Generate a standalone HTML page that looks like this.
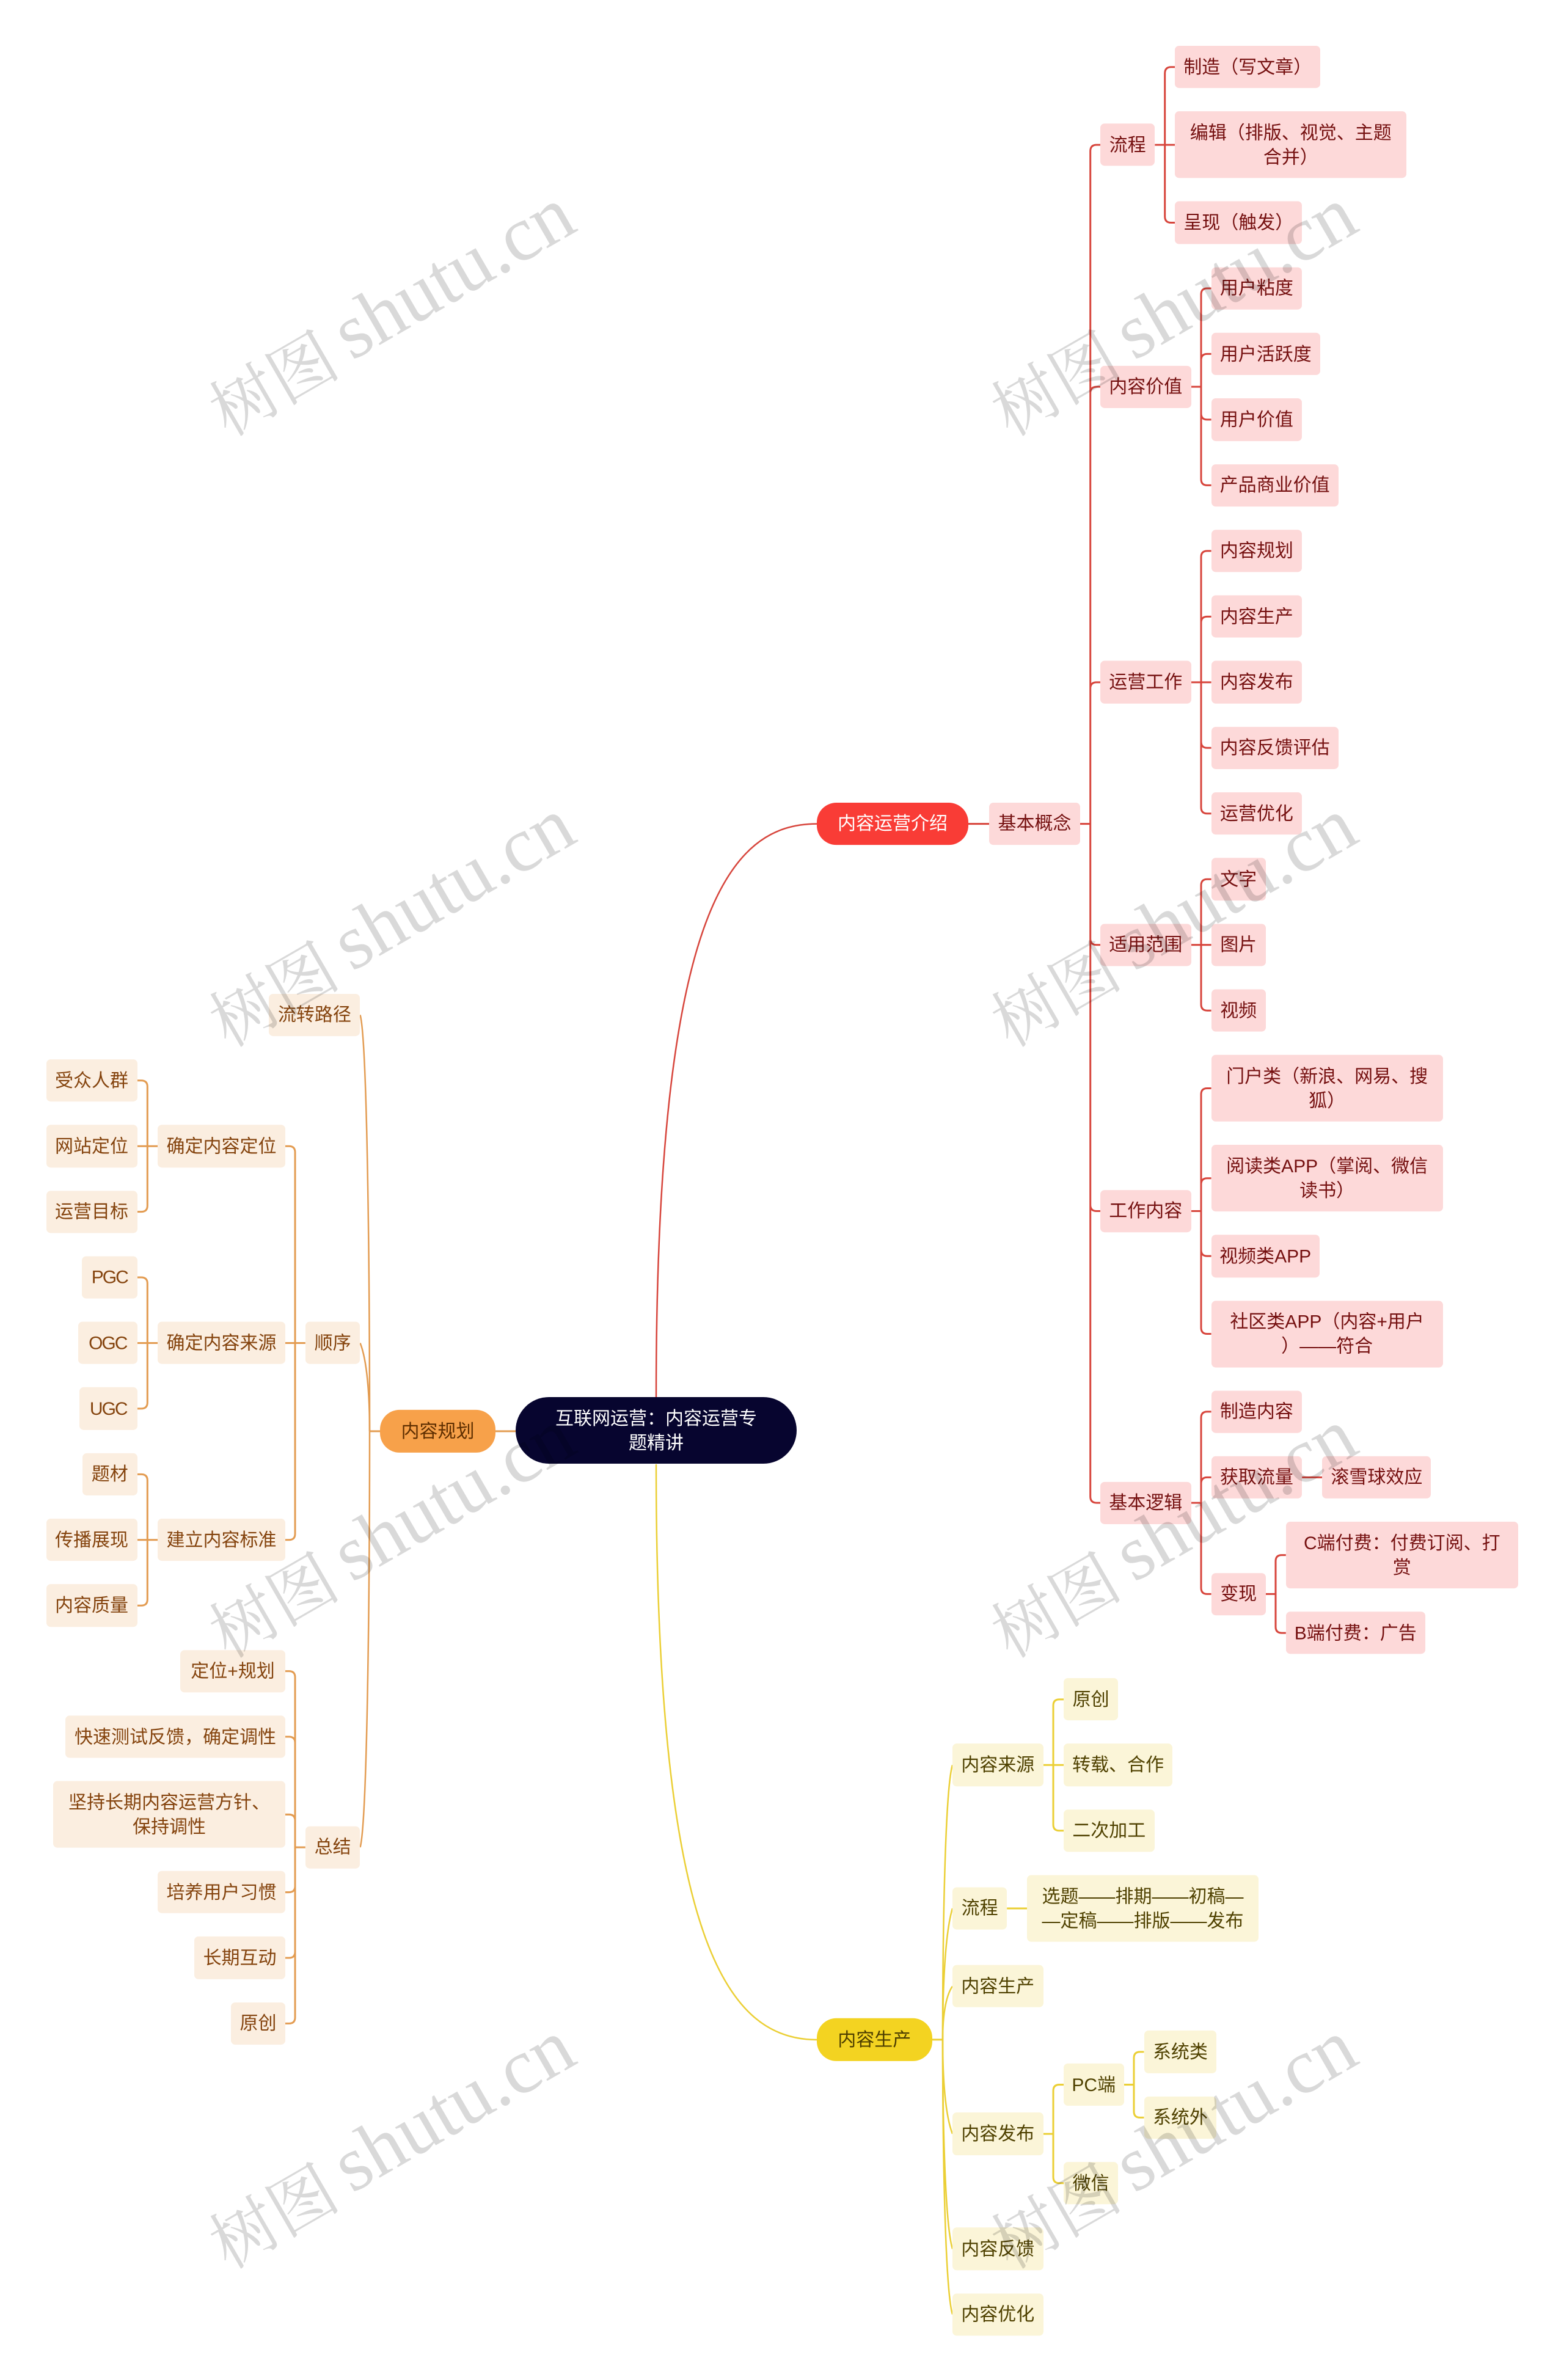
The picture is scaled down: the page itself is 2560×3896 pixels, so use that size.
<!DOCTYPE html>
<html lang="zh"><head><meta charset="utf-8"><title>互联网运营：内容运营专题精讲</title>
<style>
html,body{margin:0;padding:0;background:#fff}
#c{position:relative;width:2560px;height:3896px;overflow:hidden;background:#fff;font-family:"Liberation Sans","Noto Sans CJK SC",sans-serif}
svg{position:absolute;left:0;top:0}
.w{position:absolute;left:0;top:0;width:2560px;height:3896px}
.wr{transform-origin:0 75px;transform:scaleY(1.00165)}
.wy{transform-origin:0 2746px;transform:translateY(1px) scaleY(1.00145)}
.wo{transform-origin:0 1626px;transform:scaleY(1.0012)}
.b{position:absolute;height:69.4px;box-sizing:border-box;padding-top:2px;display:flex;align-items:center;justify-content:center;text-align:center;white-space:nowrap;font-size:30px;line-height:40px;border-radius:7px}
.t{height:109px}
.r{background:#fdd9d9;color:#751010}
.y{background:#fbf5d8;color:#4f4100}
.o{background:#fbeee0;color:#84430d}
.p{border-radius:32px}
.n{letter-spacing:-2px}
</style></head><body><div id="c">
<svg width="2560" height="3896" fill="none" stroke-width="3">
<path stroke="#d7453c" stroke-width="2.5" d="M1074 2287C1074 1490 1195 1348.6 1337 1348.6"/>
<path stroke="#ebcf35" stroke-width="2.5" d="M1074 2397C1074 3190 1195 3339 1337 3339"/>
<path stroke="#e39c52" d="M811 2342.9H844"/>
<g stroke="#d7453c" transform="translate(0 75) scale(1 1.00165) translate(0 -75)">
<path d="M1585 1346.5H1619M1768 1346.5H1784.7"/>
<path d="M1801 236.8H1795Q1784.7 236.8 1784.7 247V2446Q1784.7 2456.2 1795 2456.2H1801M1784.7 642.25Q1784.7 632.25 1795 632.25H1801M1784.7 1125.1Q1784.7 1115.1 1795 1115.1H1801M1784.7 1534.3Q1784.7 1544.3 1795 1544.3H1801M1784.7 1969.35Q1784.7 1979.35 1795 1979.35H1801"/>
<path d="M1890.3 236.8H1923.3M1923.3 109.7H1917Q1906.7 109.7 1906.7 120V354Q1906.7 364 1917 364H1923.3"/>
<path d="M1949.6 632.25H1966M1982.6 471.3H1976Q1966 471.3 1966 481.3V783.2Q1966 793.2 1976 793.2H1982.6M1966 588.6Q1966 578.6 1976 578.6H1982.6M1966 675.9Q1966 685.9 1976 685.9H1982.6"/>
<path d="M1949.6 1115.1H1982.6M1982.6 900.5H1976Q1966 900.5 1966 910.5V1319.7Q1966 1329.7 1976 1329.7H1982.6M1966 1017.8Q1966 1007.8 1976 1007.8H1982.6M1966 1212.4Q1966 1222.4 1976 1222.4H1982.6"/>
<path d="M1949.6 1544.3H1982.6M1982.6 1437H1976Q1966 1437 1966 1447V1641.6Q1966 1651.6 1976 1651.6H1982.6"/>
<path d="M1949.6 1979.35H1966M1982.6 1778.7H1976Q1966 1778.7 1966 1788.7V2170Q1966 2180 1976 2180H1982.6M1966 1935.7Q1966 1925.7 1976 1925.7H1982.6M1966 2042.9Q1966 2052.9 1976 2052.9H1982.6"/>
<path d="M1949.6 2456.2H1966M1982.6 2307.2H1976Q1966 2307.2 1966 2317.2V2595.2Q1966 2605.2 1976 2605.2H1982.6M1966 2424.5Q1966 2414.5 1976 2414.5H1982.6"/>
<path d="M2131.2 2414.5H2164.2M2071.8 2605.2H2088M2104.8 2541.6H2098Q2088 2541.6 2088 2551.6V2658.8Q2088 2668.8 2098 2668.8H2104.8"/>
</g>
<g stroke="#ebcf35" transform="translate(0 2747) scale(1 1.00145) translate(0 -2746)">
<path d="M1525.5 3337H1543"/>
<g stroke-width="2.5">
<path d="M1543 3337C1543 3157 1547 2928 1559 2888"/>
<path d="M1543 3337C1543 3251 1547 3162.5 1559 3122.5"/>
<path d="M1543 3337C1543 3302 1547 3267 1559 3249.7"/>
<path d="M1543 3337C1543 3398.6 1547 3460 1559 3491"/>
<path d="M1543 3337C1543 3474 1547 3639 1559 3679"/>
<path d="M1543 3337C1543 3517 1547 3746 1559 3786"/>
</g>
<path d="M1707.6 2888.1H1741M1741 2780.8H1734Q1724 2780.8 1724 2790.8V2985.4Q1724 2995.4 1734 2995.4H1741"/>
<path d="M1648.2 3122.5H1681"/>
<path d="M1707.6 3491.1H1724M1741 3410.6H1734Q1724 3410.6 1724 3420.6V3561.6Q1724 3571.6 1734 3571.6H1741"/>
<path d="M1839.5 3410.6H1856M1872.5 3357H1866Q1856 3357 1856 3367V3454.3Q1856 3464.3 1866 3464.3H1872.5"/>
</g>
<g stroke="#e39c52" transform="translate(0 1626) scale(1 1.0012) translate(0 -1626)">
<path d="M622 2342H605"/>
<g stroke-width="2.5">
<path d="M605 2342C605 2069 601 1701 589.5 1661.3"/>
<path d="M605 2342C605 2284 601 2226.6 589.5 2197.8"/>
<path d="M605 2342C605 2614 601 2982 589.5 3022.35"/>
</g>
<path d="M499.8 2197.8H467M467 1875.9H473Q483 1875.9 483 1885.9V2509.7Q483 2519.7 473 2519.7H467"/>
<path d="M258 1875.9H224.5M224.5 1768.6H231Q241.3 1768.6 241.3 1778.6V1973.2Q241.3 1983.2 231 1983.2H224.5"/>
<path d="M258 2197.8H224.5M224.5 2090.5H231Q241.3 2090.5 241.3 2100.5V2295.1Q241.3 2305.1 231 2305.1H224.5"/>
<path d="M258 2519.7H224.5M224.5 2412.4H231Q241.3 2412.4 241.3 2422.4V2617Q241.3 2627 231 2627H224.5"/>
<path d="M499.8 3022.35H483M467 2734.3H473Q483 2734.3 483 2744.3V3300.4Q483 3310.4 473 3310.4H467M483 2851.6Q483 2841.6 473 2841.6H467M483 2978.7Q483 2968.7 473 2968.7H467M483 3085.8Q483 3095.8 473 3095.8H467M483 3193.1Q483 3203.1 473 3203.1H467"/>
</g>
</svg>

<div class="b t" style="left:844px;top:2287.3px;width:460px;background:#07052f;color:#fff;border-radius:54.5px">互联网运营：内容运营专<br>题精讲</div>

<div class="w wr">
<div class="b p" style="left:1337px;top:1311.8px;width:248px;background:#f93c36;color:#fff">内容运营介绍</div>
<div class="b r" style="left:1619px;top:1311.8px;width:149px">基本概念</div>
<div class="b r" style="left:1801px;top:202.1px;width:89.3px">流程</div>
<div class="b r" style="left:1923.3px;top:75px;width:237.8px">制造（写文章）</div>
<div class="b r t" style="left:1923.3px;top:182.3px;width:379px">编辑（排版、视觉、主题<br>合并）</div>
<div class="b r" style="left:1923.3px;top:329.3px;width:208px">呈现（触发）</div>
<div class="b r" style="left:1801px;top:597.55px;width:148.6px">内容价值</div>
<div class="b r" style="left:1982.6px;top:436.6px;width:148.6px">用户粘度</div>
<div class="b r" style="left:1982.6px;top:543.9px;width:178.3px">用户活跃度</div>
<div class="b r" style="left:1982.6px;top:651.2px;width:148.6px">用户价值</div>
<div class="b r" style="left:1982.6px;top:758.5px;width:208px">产品商业价值</div>
<div class="b r" style="left:1801px;top:1080.4px;width:148.6px">运营工作</div>
<div class="b r" style="left:1982.6px;top:865.8px;width:148.6px">内容规划</div>
<div class="b r" style="left:1982.6px;top:973.1px;width:148.6px">内容生产</div>
<div class="b r" style="left:1982.6px;top:1080.4px;width:148.6px">内容发布</div>
<div class="b r" style="left:1982.6px;top:1187.7px;width:208px">内容反馈评估</div>
<div class="b r" style="left:1982.6px;top:1295px;width:148.6px">运营优化</div>
<div class="b r" style="left:1801px;top:1509.6px;width:148.6px">适用范围</div>
<div class="b r" style="left:1982.6px;top:1402.3px;width:89.2px">文字</div>
<div class="b r" style="left:1982.6px;top:1509.6px;width:89.2px">图片</div>
<div class="b r" style="left:1982.6px;top:1616.9px;width:89.2px">视频</div>
<div class="b r" style="left:1801px;top:1944.65px;width:148.6px">工作内容</div>
<div class="b r t" style="left:1982.6px;top:1724.2px;width:379px">门户类（新浪、网易、搜<br>狐）</div>
<div class="b r t" style="left:1982.6px;top:1871.2px;width:379px">阅读类APP（掌阅、微信<br>读书）</div>
<div class="b r" style="left:1982.6px;top:2018.2px;width:177px">视频类APP</div>
<div class="b r t" style="left:1982.6px;top:2125.5px;width:379px">社区类APP（内容+用户<br>）——符合</div>
<div class="b r" style="left:1801px;top:2421.5px;width:148.6px">基本逻辑</div>
<div class="b r" style="left:1982.6px;top:2272.5px;width:148.6px">制造内容</div>
<div class="b r" style="left:1982.6px;top:2379.8px;width:148.6px">获取流量</div>
<div class="b r" style="left:2164.2px;top:2379.8px;width:178.3px">滚雪球效应</div>
<div class="b r" style="left:1982.6px;top:2570.5px;width:89.2px">变现</div>
<div class="b r t" style="left:2104.8px;top:2487.1px;width:380px">C端付费：付费订阅、打<br>赏</div>
<div class="b r" style="left:2104.8px;top:2634.1px;width:228px">B端付费：广告</div>
</div>

<div class="w wy">
<div class="b p" style="left:1337px;top:3302.3px;width:188.5px;background:#f3d321;color:#4d3e00">内容生产</div>
<div class="b y" style="left:1559px;top:2853.4px;width:148.6px">内容来源</div>
<div class="b y" style="left:1741px;top:2746.1px;width:89.2px">原创</div>
<div class="b y" style="left:1741px;top:2853.4px;width:178.3px">转载、合作</div>
<div class="b y" style="left:1741px;top:2960.7px;width:148.6px">二次加工</div>
<div class="b y" style="left:1559px;top:3087.8px;width:89.2px">流程</div>
<div class="b y t" style="left:1681px;top:3068px;width:379px">选题——排期——初稿—<br>—定稿——排版——发布</div>
<div class="b y" style="left:1559px;top:3215px;width:148.6px">内容生产</div>
<div class="b y" style="left:1559px;top:3456.4px;width:148.6px">内容发布</div>
<div class="b y" style="left:1741px;top:3375.9px;width:98.5px">PC端</div>
<div class="b y" style="left:1872.5px;top:3322.3px;width:118.9px">系统类</div>
<div class="b y" style="left:1872.5px;top:3429.6px;width:118.9px">系统外</div>
<div class="b y" style="left:1741px;top:3536.9px;width:89.2px">微信</div>
<div class="b y" style="left:1559px;top:3644.2px;width:148.6px">内容反馈</div>
<div class="b y" style="left:1559px;top:3751.5px;width:148.6px">内容优化</div>
</div>

<div class="w wo">
<div class="b p" style="left:622px;top:2307.3px;width:189px;background:#f7a14a;color:#5e2e00">内容规划</div>
<div class="b o" style="left:440.4px;top:1626.6px;width:149px">流转路径</div>
<div class="b o" style="left:499.8px;top:2163.1px;width:89.7px">顺序</div>
<div class="b o" style="left:258px;top:1841.2px;width:209px">确定内容定位</div>
<div class="b o" style="left:75.5px;top:1733.9px;width:149px">受众人群</div>
<div class="b o" style="left:75.5px;top:1841.2px;width:149px">网站定位</div>
<div class="b o" style="left:75.5px;top:1948.5px;width:149px">运营目标</div>
<div class="b o" style="left:258px;top:2163.1px;width:209px">确定内容来源</div>
<div class="b o n" style="left:134px;top:2055.8px;width:90.5px">PGC</div>
<div class="b o n" style="left:128px;top:2163.1px;width:96.5px">OGC</div>
<div class="b o n" style="left:130px;top:2270.4px;width:94.5px">UGC</div>
<div class="b o" style="left:258px;top:2485px;width:209px">建立内容标准</div>
<div class="b o" style="left:135px;top:2377.7px;width:89.5px">题材</div>
<div class="b o" style="left:75.5px;top:2485px;width:149px">传播展现</div>
<div class="b o" style="left:75.5px;top:2592.3px;width:149px">内容质量</div>
<div class="b o" style="left:499.8px;top:2987.65px;width:89.7px">总结</div>
<div class="b o" style="left:295px;top:2699.6px;width:172px">定位+规划</div>
<div class="b o" style="left:107px;top:2806.9px;width:360px">快速测试反馈，确定调性</div>
<div class="b o t" style="left:87px;top:2914.2px;width:380px">坚持长期内容运营方针、<br>保持调性</div>
<div class="b o" style="left:258px;top:3061.1px;width:209px">培养用户习惯</div>
<div class="b o" style="left:318px;top:3168.4px;width:149px">长期互动</div>
<div class="b o" style="left:378px;top:3275.7px;width:89px">原创</div>
</div>

<svg width="2560" height="3896" fill="#000" fill-opacity=".15" font-family="'Liberation Serif','Noto Serif CJK SC',serif">
<g transform="translate(576 591) rotate(-30)"><text x="-238" y="7" font-size="108">树图</text><text font-size="128">shutu.cn</text></g>
<g transform="translate(1856 591) rotate(-30)"><text x="-238" y="7" font-size="108">树图</text><text font-size="128">shutu.cn</text></g>
<g transform="translate(576 1591) rotate(-30)"><text x="-238" y="7" font-size="108">树图</text><text font-size="128">shutu.cn</text></g>
<g transform="translate(1856 1591) rotate(-30)"><text x="-238" y="7" font-size="108">树图</text><text font-size="128">shutu.cn</text></g>
<g transform="translate(576 2591) rotate(-30)"><text x="-238" y="7" font-size="108">树图</text><text font-size="128">shutu.cn</text></g>
<g transform="translate(1856 2591) rotate(-30)"><text x="-238" y="7" font-size="108">树图</text><text font-size="128">shutu.cn</text></g>
<g transform="translate(576 3591) rotate(-30)"><text x="-238" y="7" font-size="108">树图</text><text font-size="128">shutu.cn</text></g>
<g transform="translate(1856 3591) rotate(-30)"><text x="-238" y="7" font-size="108">树图</text><text font-size="128">shutu.cn</text></g>
</svg>
</div></body></html>
